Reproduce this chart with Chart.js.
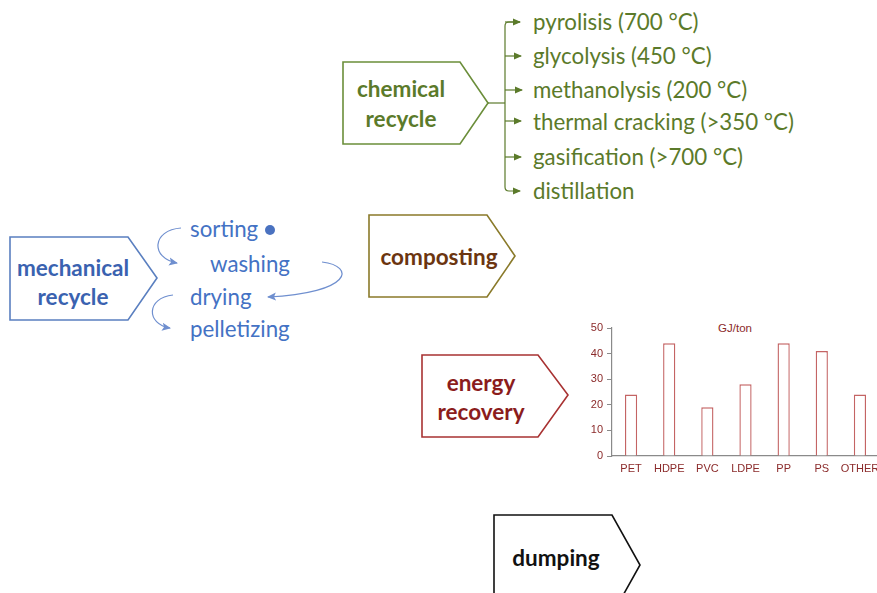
<!DOCTYPE html>
<html>
<head>
<meta charset="utf-8">
<script src="https://cdn.jsdelivr.net/npm/chart.js@4"></script>
<style>
  html, body { margin: 0; padding: 0; width: 877px; height: 593px; overflow: hidden; background: #fff; }
  #diagram { position: absolute; left: 0; top: 0; }
  #energyChart { position: absolute; left: 560px; top: 310px; }
  .gj { position: absolute; left: 700px; top: 322px; width: 70px; text-align: center;
        font: 11.5px "Liberation Sans", Arial, sans-serif; color: #8b2a2a; }
</style>
</head>
<body>
<svg id="diagram" width="877" height="593" xmlns="http://www.w3.org/2000/svg"
     font-family="Lato, 'Open Sans', sans-serif">
  <defs>
    <marker id="gHead" markerWidth="8" markerHeight="8" refX="7" refY="4" orient="auto" markerUnits="userSpaceOnUse">
      <path d="M0,0.5 L8,4 L0,7.5 Z" fill="#5b7a2a"/>
    </marker>
    <marker id="bHead" markerWidth="10" markerHeight="10" refX="8" refY="5" orient="auto" markerUnits="userSpaceOnUse">
      <path d="M0,1 L9,5 L0,9 L2,5 Z" fill="#6f8fcf"/>
    </marker>
  </defs>

  <!-- chemical recycle -->
  <path d="M343,62 H460 L488,103 L460,144 H343 Z" fill="none" stroke="#6b8e3a" stroke-width="1.6"/>
  <text x="401" y="88" text-anchor="middle" dominant-baseline="central" font-weight="bold" font-size="22.5" fill="#5b7a2a">chemical</text>
  <text x="401" y="118" text-anchor="middle" dominant-baseline="central" font-weight="bold" font-size="22.5" fill="#5b7a2a">recycle</text>
  <g stroke="#5b7a2a" stroke-width="1.2" fill="none">
    <path d="M488,103 H505"/>
    <path d="M520,22 H509 Q505,22 505,26 V187 Q505,191 509,191 H520" marker-end="url(#gHead)"/>
    <path d="M505,22 H520" marker-end="url(#gHead)"/>
    <path d="M505,56 H521" marker-end="url(#gHead)"/>
    <path d="M505,90 H522" marker-end="url(#gHead)"/>
    <path d="M505,121 H521" marker-end="url(#gHead)"/>
    <path d="M505,157 H521" marker-end="url(#gHead)"/>
  </g>
  <g font-size="22.3" fill="#5b7a2a" dominant-baseline="central">
    <text x="533" y="21">pyrolisis (700 °C)</text>
    <text x="533" y="55">glycolysis (450 °C)</text>
    <text x="533" y="89">methanolysis (200 °C)</text>
    <text x="533" y="121">thermal cracking (&gt;350 °C)</text>
    <text x="533" y="156">gasification (&gt;700 °C)</text>
    <text x="533" y="190">distillation</text>
  </g>

  <!-- mechanical recycle -->
  <path d="M10,237 H128 L157,278 L128,320 H10 Z" fill="none" stroke="#5a7fc0" stroke-width="1.6"/>
  <text x="73" y="267" text-anchor="middle" dominant-baseline="central" font-weight="bold" font-size="22.5" fill="#3a62b0">mechanical</text>
  <text x="73" y="296" text-anchor="middle" dominant-baseline="central" font-weight="bold" font-size="22.5" fill="#3a62b0">recycle</text>
  <g font-size="22.3" fill="#4472c4" dominant-baseline="central">
    <text x="190" y="228">sorting</text>
    <text x="210" y="263">washing</text>
    <text x="190" y="296">drying</text>
    <text x="190" y="328">pelletizing</text>
  </g>
  <circle cx="270" cy="230" r="5" fill="#4a72c0"/>
  <g stroke="#6f8fcf" stroke-width="1.2" fill="none">
    <path d="M181,228 C152,230 150,258 177,263" marker-end="url(#bHead)"/>
    <path d="M322,262 C356,266 352,293 268,297" marker-end="url(#bHead)"/>
    <path d="M173,295 C146,298 146,324 170,328" marker-end="url(#bHead)"/>
  </g>

  <!-- composting -->
  <path d="M369,215 H487 L515,256 L487,297 H369 Z" fill="none" stroke="#8a7a2a" stroke-width="1.6"/>
  <text x="439" y="256" text-anchor="middle" dominant-baseline="central" font-weight="bold" font-size="22.5" fill="#6b3510">composting</text>

  <!-- energy recovery -->
  <path d="M422,355 H538 L568,395 L538,437 H422 Z" fill="none" stroke="#a83232" stroke-width="1.6"/>
  <text x="481" y="382" text-anchor="middle" dominant-baseline="central" font-weight="bold" font-size="22.5" fill="#8b1c1c">energy</text>
  <text x="481" y="411" text-anchor="middle" dominant-baseline="central" font-weight="bold" font-size="22.5" fill="#8b1c1c">recovery</text>

  <!-- dumping -->
  <path d="M494,515 H612 L640,565 L612,615 H494 Z" fill="none" stroke="#111" stroke-width="1.6"/>
  <text x="556" y="557" text-anchor="middle" dominant-baseline="central" font-weight="bold" font-size="22.5" fill="#111">dumping</text>
</svg>

<div class="gj">GJ/ton</div>
<canvas id="energyChart" width="330" height="180"></canvas>

<script>
// Energy recovery - heating value per plastic type
const categories = ['PET', 'HDPE', 'PVC', 'LDPE', 'PP', 'PS', 'OTHER'];
const energyValues = [24, 44, 19, 28, 44, 41, 24];
const yMax = 50;
const yStep = 5;

const axisRed = '#8b2a2a';

new Chart(document.getElementById('energyChart'), {
  type: 'bar',
  data: {
    labels: categories,
    datasets: [{
      label: 'GJ/ton',
      data: energyValues,
      backgroundColor: '#ffffff',
      borderColor: '#c46464',
      borderWidth: 1.4,
      barPercentage: 0.32,
      categoryPercentage: 1
    }]
  },
  options: {
    responsive: false,
    animation: false,
    layout: { padding: { left: 0, top: 18, right: 11, bottom: 14 } },
    plugins: {
      legend: { display: false },
      tooltip: { enabled: false }
    },
    scales: {
      x: {
        grid: { display: false, drawTicks: false },
        border: { display: true, color: '#8a8a8a', width: 1.2 },
        ticks: { color: axisRed, font: { family: 'Liberation Sans', size: 11 }, padding: 6, maxRotation: 0, autoSkip: false },
        afterFit: (axis) => { axis.height = 20; }
      },
      y: {
        min: 0,
        max: yMax,
        grid: { drawOnChartArea: false, drawTicks: true, tickLength: 5, color: '#8a8a8a' },
        border: { display: true, color: '#8a8a8a', width: 1.2 },
        ticks: {
          stepSize: yStep,
          color: axisRed,
          font: { family: 'Liberation Sans', size: 11 },
          padding: 4,
          callback: (v) => (v % 10 === 0 ? v : '')
        },
        afterFit: (axis) => { axis.width = 52; }
      }
    }
  }
});
</script>
</body>
</html>
